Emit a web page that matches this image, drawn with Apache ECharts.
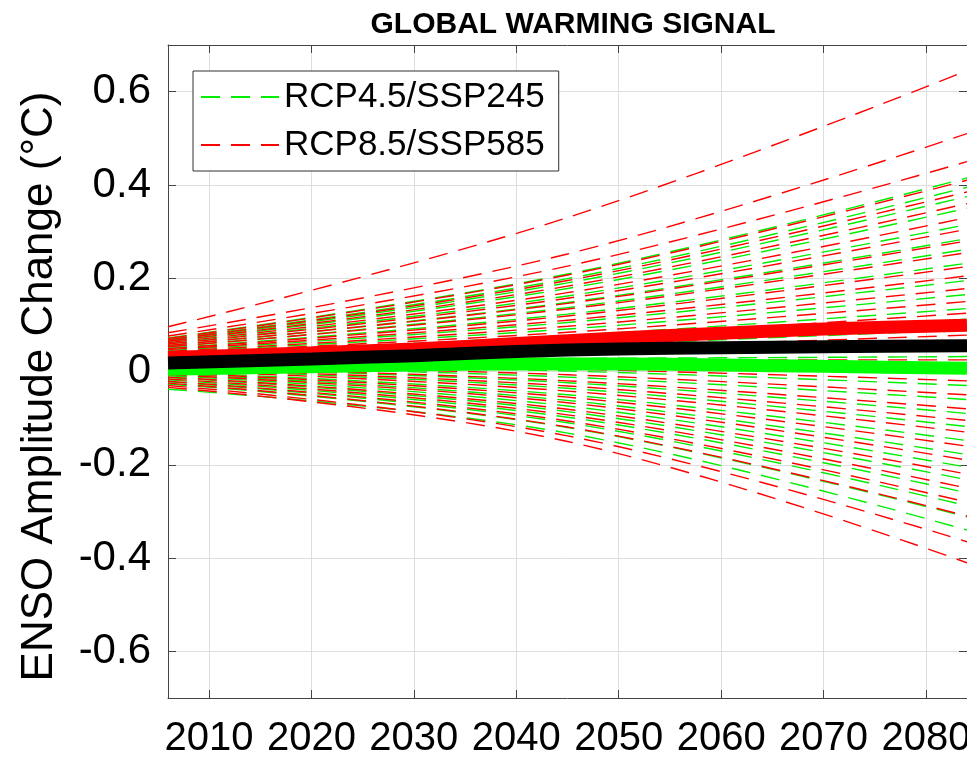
<!DOCTYPE html>
<html>
<head>
<meta charset="utf-8">
<script src="https://cdn.jsdelivr.net/npm/echarts@6/dist/echarts.min.js"></script>
<style>
  html, body { margin: 0; padding: 0; background: #fff; overflow: hidden; }
  #chart { width: 967px; height: 758px; }
</style>
</head>
<body>
<div id="chart"></div>
<script>
// Years at which each model run's amplitude change is sampled
const runYears = [2006, 2045, 2084];

// RCP4.5/SSP245 model runs: amplitude change (°C) at runYears
const rcp45Runs = [
  [0.072, 0.209, 0.415], [0.069, 0.199, 0.395], [0.067, 0.190, 0.375], [0.064, 0.178, 0.350],
  [0.060, 0.162, 0.315], [0.056, 0.148, 0.285], [0.053, 0.137, 0.262], [0.050, 0.123, 0.232],
  [0.045, 0.105, 0.195], [0.042, 0.091, 0.165], [0.038, 0.077, 0.135], [0.035, 0.066, 0.112],
  [0.033, 0.056, 0.090], [0.029, 0.042, 0.062], [0.026, 0.028, 0.032], [0.021, 0.014, 0.000],
  [0.017, 0.001, -0.030], [0.012, -0.012, -0.060], [0.008, -0.024, -0.090], [0.004, -0.036, -0.118],
  [-0.001, -0.050, -0.148], [-0.005, -0.062, -0.178], [-0.009, -0.074, -0.205], [-0.013, -0.086, -0.232],
  [-0.018, -0.098, -0.260], [-0.022, -0.110, -0.288], [-0.027, -0.120, -0.312], [-0.038, -0.132, -0.340]
];

// RCP8.5/SSP585 model runs: amplitude change (°C) at runYears
const rcp85Runs = [
  [0.096, 0.330, 0.645], [0.083, 0.252, 0.510], [0.076, 0.226, 0.450], [0.071, 0.207, 0.410],
  [0.068, 0.195, 0.385], [0.065, 0.183, 0.360], [0.062, 0.169, 0.330], [0.059, 0.157, 0.305],
  [0.056, 0.146, 0.280], [0.053, 0.134, 0.255], [0.049, 0.119, 0.225], [0.047, 0.110, 0.205],
  [0.043, 0.097, 0.178], [0.040, 0.084, 0.150], [0.037, 0.072, 0.125], [0.034, 0.060, 0.100],
  [0.031, 0.050, 0.078], [0.029, 0.039, 0.055], [0.025, 0.025, 0.025], [0.018, 0.005, -0.020],
  [0.014, -0.007, -0.050], [0.009, -0.020, -0.080], [0.006, -0.031, -0.105], [0.002, -0.042, -0.130],
  [-0.003, -0.055, -0.160], [-0.007, -0.067, -0.190], [-0.012, -0.081, -0.220], [-0.016, -0.093, -0.250],
  [-0.021, -0.106, -0.280], [-0.025, -0.119, -0.310], [-0.030, -0.138, -0.365], [-0.034, -0.150, -0.410]
];

// Multi-model means (°C)
const meanYears = [2006, 2020, 2030, 2040, 2050, 2060, 2070, 2084];
const mean85 = [0.030, 0.040, 0.048, 0.060, 0.072, 0.082, 0.091, 0.099];
const mean45 = [0.005, 0.010, 0.014, 0.016, 0.016, 0.014, 0.011, 0.007];
const meanAll = [0.018, 0.027, 0.034, 0.043, 0.048, 0.051, 0.053, 0.055];

// Axis ticks
const yearTicks = [2010, 2020, 2030, 2040, 2050, 2060, 2070, 2080];
const ampTicks = [-0.6, -0.4, -0.2, 0, 0.2, 0.4, 0.6];

const NAME45 = 'RCP4.5/SSP245';
const NAME85 = 'RCP8.5/SSP585';
const FONT = '"Liberation Sans", Arial, Helvetica, sans-serif';
const AXIS_COLOR = '#444';
const GRID_COLOR = '#dedede';

function runSeries(name, values, color) {
  return {
    type: 'line',
    name: name,
    data: runYears.map((y, i) => [y, values[i]]),
    smooth: 0.4,
    symbol: 'none',
    showSymbol: false,
    silent: true,
    z: 2,
    lineStyle: { color: color, width: 1.4, type: [19, 11] },
    itemStyle: { color: color }
  };
}

function meanSeries(name, values, color, z) {
  return {
    type: 'line',
    name: name,
    data: meanYears.map((y, i) => [y, values[i]]),
    smooth: 0.3,
    symbol: 'none',
    showSymbol: false,
    silent: true,
    z: z,
    lineStyle: { color: color, width: 13, cap: 'butt' },
    itemStyle: { color: color }
  };
}

const series = [];
const nRuns = Math.max(rcp45Runs.length, rcp85Runs.length);
for (let i = 0; i < nRuns; i++) {
  if (i < rcp45Runs.length) series.push(runSeries(NAME45, rcp45Runs[i], '#00ee00'));
  if (i < rcp85Runs.length) series.push(runSeries(NAME85, rcp85Runs[i], '#ff0000'));
}
series.push(meanSeries('RCP8.5 mean', mean85, '#ff0000', 3));
series.push(meanSeries('RCP4.5 mean', mean45, '#00ff00', 4));
series.push(meanSeries('All-run mean', meanAll, '#000000', 5));

const axisLine = { show: true, onZero: false, lineStyle: { color: AXIS_COLOR, width: 1 } };

const chart = echarts.init(document.getElementById('chart'), null, { renderer: 'canvas' });
chart.setOption({
  animation: false,
  backgroundColor: '#fff',
  title: {
    text: 'GLOBAL WARMING SIGNAL',
    left: 568,
    textAlign: 'center',
    top: 5,
    textStyle: { fontFamily: FONT, fontSize: 30, fontWeight: 'bold', color: '#000' }
  },
  legend: {
    data: [NAME45, NAME85],
    orient: 'vertical',
    left: 193,
    top: 71,
    padding: [6, 14, 6, 7],
    itemGap: 8,
    itemWidth: 78,
    itemHeight: 14,
    backgroundColor: '#fff',
    borderColor: '#303030',
    borderWidth: 1,
    borderRadius: 0,
    selectedMode: false,
    itemStyle: { opacity: 0 },
    textStyle: { fontFamily: FONT, fontSize: 35, color: '#000', lineHeight: 40, padding: [0, 0, 0, 0] }
  },
  grid: { left: 168, right: 0, top: 45, bottom: 60, containLabel: false, outerBoundsMode: 'none' },
  xAxis: [
    {
      type: 'value', min: 2006, max: 2084, position: 'bottom',
      axisLine: axisLine,
      axisTick: { show: true, inside: true, length: 8, customValues: yearTicks, lineStyle: { color: AXIS_COLOR } },
      axisLabel: {
        customValues: yearTicks, margin: 21, color: '#000', hideOverlap: false,
        fontFamily: FONT, fontSize: 40, formatter: v => String(v)
      },
      splitLine: { show: true, lineStyle: { color: GRID_COLOR, width: 1 } }
    },
    {
      type: 'value', min: 2006, max: 2084, position: 'top',
      axisLine: axisLine,
      axisTick: { show: true, inside: true, length: 8, customValues: yearTicks, lineStyle: { color: AXIS_COLOR } },
      axisLabel: { show: false, customValues: yearTicks },
      splitLine: { show: false }
    }
  ],
  yAxis: [
    {
      type: 'value', min: -0.7, max: 0.7, position: 'left',
      name: 'ENSO Amplitude Change (°C)',
      nameLocation: 'middle',
      nameGap: 106,
      nameTextStyle: { fontFamily: FONT, fontSize: 44, color: '#000', padding: [0, 30, 0, 0] },
      axisLine: axisLine,
      axisTick: { show: true, inside: true, length: 8, customValues: ampTicks, lineStyle: { color: AXIS_COLOR } },
      axisLabel: {
        customValues: ampTicks, margin: 17, color: '#000',
        fontFamily: FONT, fontSize: 42, formatter: v => String(v)
      },
      splitLine: { show: true, lineStyle: { color: GRID_COLOR, width: 1 } }
    },
    {
      type: 'value', min: -0.7, max: 0.7, position: 'right',
      axisLine: axisLine,
      axisTick: { show: true, inside: true, length: 8, customValues: ampTicks, lineStyle: { color: AXIS_COLOR } },
      axisLabel: { show: false, customValues: ampTicks },
      splitLine: { show: false }
    }
  ],
  series: series
});
</script>
</body>
</html>
